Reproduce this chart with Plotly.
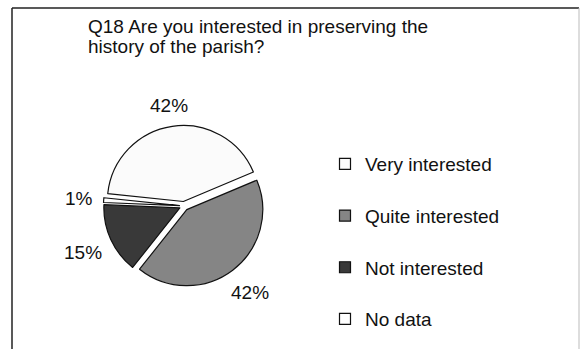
import math
import plotly.graph_objects as go

# Survey responses, Q18
categories = ["Very interested", "Quite interested", "Not interested", "No data"]
shares = [42, 42, 15, 1]
title_lines = ["Q18 Are you interested in preserving the", "history of the parish?"]

fills = ["#fbfbfb", "#858585", "#393939", "#ffffff"]
FONT = "Liberation Sans, Arial, sans-serif"
FS = 19
W, H = 580, 349

# pie geometry (pixels)
CX, CY, R = 184, 206, 76
PULL = 0.06
START = 174           # angle (deg, counter-clockwise from 3 o'clock) where the first slice starts
half = R * (1 + PULL)

fig = go.Figure()

fig.add_trace(go.Pie(
    labels=categories,
    values=shares,
    sort=False,
    direction="clockwise",
    rotation=90 - START,
    pull=[PULL] * len(shares),
    marker=dict(colors=fills, line=dict(color="#111111", width=1.2)),
    textinfo="none",
    showlegend=False,
    domain=dict(x=[(CX - half) / W, (CX + half) / W],
                y=[1 - (CY + half) / H, 1 - (CY - half) / H]),
    hoverinfo="label+percent",
))

# percentage labels placed outside each slice along its middle angle
glyph_w = {"%": 0.889}
total = sum(shares)
acc = 0.0
for v in shares:
    mid = math.radians(START - 360 * (acc + v / 2) / total)
    acc += v
    txt = f"{round(100 * v / total)}%"
    tw = sum(glyph_w.get(ch, 0.556) for ch in txt) * FS / 2
    th = FS * 0.45
    c, s = math.cos(mid), math.sin(mid)
    d = R * (1 + PULL) + 10 + abs(c) * tw + abs(s) * th
    px, py = CX + d * c, CY - d * s
    fig.add_annotation(text=txt, x=px / W, y=1 - py / H, xref="paper", yref="paper",
                       xanchor="center", yanchor="middle", showarrow=False,
                       font=dict(family=FONT, size=FS, color="#111111"))

# legend entries as square swatches, one group each so the spacing can be set
for name, col in zip(categories, fills):
    fig.add_trace(go.Scatter(
        x=[None], y=[None], mode="markers", name=name, legendgroup=name,
        marker=dict(symbol="square", size=11, color=col,
                    line=dict(color="#111111", width=1.2)),
    ))

for i, line in enumerate(title_lines):
    fig.add_annotation(
        text=line, xref="paper", yref="paper",
        x=86 / W, y=1 - (27 + 20 * i) / H, xanchor="left", yanchor="middle",
        align="left", showarrow=False,
        font=dict(family=FONT, size=FS, color="#111111"),
    )

# outer frame
fig.add_shape(type="line", xref="paper", yref="paper", x0=12 / W, x1=12 / W,
              y0=0, y1=1 - 8 / H, line=dict(color="#222222", width=1.5))
fig.add_shape(type="line", xref="paper", yref="paper", x0=12 / W, x1=579 / W,
              y0=1 - 8 / H, y1=1 - 8 / H, line=dict(color="#222222", width=1.5))
fig.add_shape(type="line", xref="paper", yref="paper", x0=579 / W, x1=579 / W,
              y0=0, y1=1 - 8 / H, line=dict(color="#bbbbbb", width=1))

fig.update_layout(
    width=W, height=H,
    margin=dict(l=0, r=0, t=0, b=0),
    paper_bgcolor="white", plot_bgcolor="white",
    xaxis=dict(visible=False), yaxis=dict(visible=False),
    legend=dict(x=325 / W, y=1 - 145 / H, xanchor="left", yanchor="top",
                tracegroupgap=24, font=dict(family=FONT, size=FS, color="#111111"),
                itemwidth=30, bgcolor="rgba(0,0,0,0)"),
)

fig.write_html("out.html")
